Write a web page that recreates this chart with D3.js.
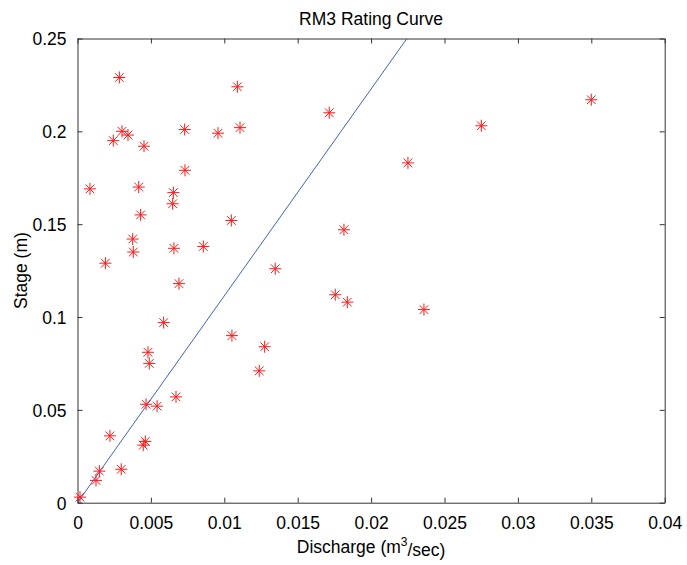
<!DOCTYPE html>
<html><head><meta charset="utf-8">
<script src="https://cdn.jsdelivr.net/npm/d3@7"></script>
<style>body{margin:0;background:#fff}svg{display:block}text{font-family:"Liberation Sans",Arial,Helvetica,sans-serif}</style>
</head><body>
<script>
const discharge = [0.00285,0.01089,0.00303,0.00344,0.00244,0.00453,0.00730,0.00957,0.01107,0.00732,
  0.00085,0.00417,0.00653,0.00648,0.00430,0.01048,0.00376,0.00380,0.00190,0.00657,
  0.00857,0.00691,0.00587,0.01052,0.00480,0.00489,0.01238,0.00467,0.00542,0.00671,
  0.00221,0.00462,0.00448,0.00298,0.00149,0.00126,0.00017,0.01815,0.01347,0.01756,
  0.01838,0.02360,0.01275,0.01715,0.02251,0.03500,0.02751];
const stage = [0.229,0.224,0.200,0.198,0.195,0.192,0.201,0.199,0.202,0.179,
  0.169,0.170,0.167,0.161,0.155,0.152,0.142,0.135,0.129,0.137,
  0.138,0.118,0.097,0.090,0.081,0.075,0.071,0.053,0.052,0.057,
  0.036,0.033,0.031,0.018,0.017,0.012,0.003,0.147,0.126,0.112,
  0.108,0.104,0.084,0.210,0.183,0.217,0.203];
const fitQ = [0, 0.02244];
const fitS = [0, 0.25];
const xTicks = [0,0.005,0.01,0.015,0.02,0.025,0.03,0.035,0.04];
const xTickLabels = ["0","0.005","0.01","0.015","0.02","0.025","0.03","0.035","0.04"];
const yTicks = [0,0.05,0.1,0.15,0.2,0.25];
const yTickLabels = ["0","0.05","0.1","0.15","0.2","0.25"];

const W=687,H=565;
const L=77.5,R=664.7,T=38.5,B=502.7;
const svg=d3.select("body").append("svg").attr("width",W).attr("height",H);
const x=d3.scaleLinear().domain([0,0.04]).range([L,R]);
const y=d3.scaleLinear().domain([0,0.25]).range([B,T]);
const fs="17.5px", axc="#333";

const gx=svg.append("g").attr("transform",`translate(0,${B})`)
  .call(d3.axisBottom(x).tickValues(xTicks).tickFormat((d,i)=>xTickLabels[i]).tickSizeInner(-5).tickSizeOuter(0).tickPadding(11));
const gxt=svg.append("g").attr("transform",`translate(0,${T})`)
  .call(d3.axisTop(x).tickValues(xTicks).tickFormat("").tickSizeInner(-5).tickSizeOuter(0));
const gy=svg.append("g").attr("transform",`translate(${L},0)`)
  .call(d3.axisLeft(y).tickValues(yTicks).tickFormat((d,i)=>yTickLabels[i]).tickSizeInner(-5).tickSizeOuter(0).tickPadding(11));
const gyr=svg.append("g").attr("transform",`translate(${R},0)`)
  .call(d3.axisRight(y).tickValues(yTicks).tickFormat("").tickSizeInner(-5).tickSizeOuter(0));
[gx,gxt,gy,gyr].forEach(g=>{
  g.selectAll("path.domain").attr("stroke",axc);
  g.selectAll("line").attr("stroke",axc);
  g.selectAll("text").attr("fill","#000").style("font-size",fs);
});
gx.selectAll("text").attr("dy","0.9em");
gy.selectAll("text").attr("dy","0.36em");

svg.append("clipPath").attr("id","clip").append("rect").attr("x",L).attr("y",T).attr("width",R-L).attr("height",B-T);
svg.append("path").datum(fitQ.map((q,i)=>[q,fitS[i]]))
  .attr("d",d3.line().x(d=>x(d[0])).y(d=>y(d[1])))
  .attr("fill","none").attr("stroke","#2d4fbf").attr("stroke-width",0.9)
  .attr("clip-path","url(#clip)");

const r=6, rd=r*0.72;
const star=`M${-r},0L${r},0M0,${-r}L0,${r}M${-rd},${-rd}L${rd},${rd}M${-rd},${rd}L${rd},${-rd}`;
svg.append("g").selectAll("path").data(discharge.map((q,i)=>[q,stage[i]])).join("path")
  .attr("transform",d=>`translate(${x(d[0])},${y(d[1])})`)
  .attr("d",star).attr("fill","none").attr("stroke","#ff1a1a").attr("stroke-width",1);

svg.append("text").attr("x",(L+R)/2).attr("y",25).attr("text-anchor","middle").style("font-size",fs).text("RM3 Rating Curve");
const xl=svg.append("text").attr("x",(L+R)/2).attr("y",553).attr("text-anchor","middle").style("font-size",fs);
xl.append("tspan").text("Discharge (m");
xl.append("tspan").attr("dy","-0.55em").style("font-size","12px").text("3");
xl.append("tspan").attr("dy","0.55em").text("/sec)");
svg.append("text").attr("transform",`translate(27,${(T+B)/2}) rotate(-90)`).attr("text-anchor","middle").style("font-size",fs).text("Stage (m)");
</script>
</body></html>
